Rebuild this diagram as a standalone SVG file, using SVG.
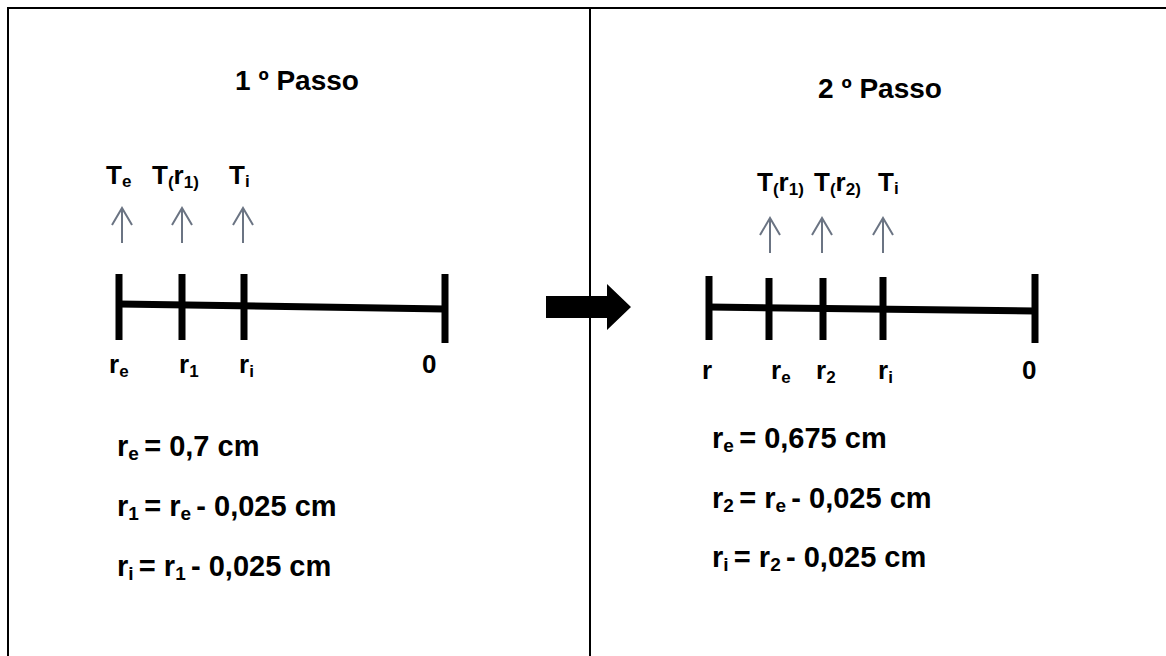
<svg xmlns="http://www.w3.org/2000/svg" width="1166" height="656" viewBox="0 0 1166 656">
  <style>
    text { font-family: "Liberation Sans", Arial, sans-serif; font-weight: bold; fill: #000; }
    .title { font-size: 28px; text-anchor: middle; }
    .lbl { font-size: 26px; }
    .sub { font-size: 17px; }
    .eq { font-size: 29px; }
    .esub { font-size: 19px; }
    .frame { stroke: #000; stroke-width: 2; fill: none; }
    .axis { stroke: #000; stroke-width: 7; fill: none; }
    .tick { stroke: #000; stroke-width: 7; fill: none; }
    .up { stroke: #6b7483; stroke-width: 2; fill: none; stroke-linejoin: miter; }
  </style>

  <rect width="1166" height="656" fill="#fff"/>

  <!-- outer frame and divider -->
  <g id="frame">
    <path class="frame" d="M8 656 V8 H1166"/>
    <path class="frame" d="M590 8 V656"/>
  </g>

  <!-- step 1 -->
  <g id="step1">
    <text class="title" x="297" y="90">1 º Passo</text>
    <g id="step1-axis">
      <path class="axis" d="M119 304 L445 309"/>
      <path class="tick" d="M119 274 V340 M182 274 V340 M244 274 V340 M445 274 V343"/>
    </g>
    <g id="step1-temps">
      <text class="lbl" x="106" y="184">T<tspan class="sub" dy="3">e</tspan></text>
      <text class="lbl" x="152" y="184">T<tspan class="sub" dy="4">(</tspan><tspan dy="-4">r</tspan><tspan class="sub" dy="4">1)</tspan></text>
      <text class="lbl" x="229" y="184">T<tspan class="sub" dy="3">i</tspan></text>
    </g>
    <g id="step1-radii">
      <text class="lbl" x="109" y="373">r<tspan class="sub" dy="4">e</tspan></text>
      <text class="lbl" x="179" y="373">r<tspan class="sub" dy="4">1</tspan></text>
      <text class="lbl" x="239" y="373">r<tspan class="sub" dy="4">i</tspan></text>
      <text class="lbl" x="422" y="373">0</text>
    </g>
    <g id="step1-eqs">
      <text class="eq" x="117" y="456">r<tspan class="esub" dy="4">e </tspan><tspan dy="-4">= 0,7 cm</tspan></text>
      <text class="eq" x="117" y="516">r<tspan class="esub" dy="4">1 </tspan><tspan dy="-4">= r</tspan><tspan class="esub" dy="4">e </tspan><tspan dy="-4">- 0,025 cm</tspan></text>
      <text class="eq" x="117" y="576">r<tspan class="esub" dy="4">i </tspan><tspan dy="-4">= r</tspan><tspan class="esub" dy="4">1 </tspan><tspan dy="-4">- 0,025 cm</tspan></text>
    </g>
  </g>

  <!-- step 2 -->
  <g id="step2">
    <text class="title" x="880" y="98">2 º Passo</text>
    <g id="step2-axis">
      <path class="axis" d="M709 307 L1035 311"/>
      <path class="tick" d="M709 276 V340 M769 278 V340 M823 278 V340 M883 277 V340 M1035 274 V343"/>
    </g>
    <g id="step2-temps">
      <text class="lbl" x="757" y="191">T<tspan class="sub" dy="4">(</tspan><tspan dy="-4">r</tspan><tspan class="sub" dy="4">1)</tspan></text>
      <text class="lbl" x="814" y="191">T<tspan class="sub" dy="4">(</tspan><tspan dy="-4">r</tspan><tspan class="sub" dy="4">2)</tspan></text>
      <text class="lbl" x="878" y="191">T<tspan class="sub" dy="3">i</tspan></text>
    </g>
    <g id="step2-radii">
      <text class="lbl" x="702" y="379">r</text>
      <text class="lbl" x="771" y="379">r<tspan class="sub" dy="4">e</tspan></text>
      <text class="lbl" x="816" y="379">r<tspan class="sub" dy="4">2</tspan></text>
      <text class="lbl" x="878" y="379">r<tspan class="sub" dy="4">i</tspan></text>
      <text class="lbl" x="1022" y="379">0</text>
    </g>
    <g id="step2-eqs">
      <text class="eq" x="712" y="448">r<tspan class="esub" dy="4">e </tspan><tspan dy="-4">= 0,675 cm</tspan></text>
      <text class="eq" x="712" y="508">r<tspan class="esub" dy="4">2 </tspan><tspan dy="-4">= r</tspan><tspan class="esub" dy="4">e </tspan><tspan dy="-4">- 0,025 cm</tspan></text>
      <text class="eq" x="712" y="567">r<tspan class="esub" dy="4">i </tspan><tspan dy="-4">= r</tspan><tspan class="esub" dy="4">2 </tspan><tspan dy="-4">- 0,025 cm</tspan></text>
    </g>
  </g>

  <!-- connectors: temperature pointers and the step transition arrow -->
  <g id="connectors">
    <path class="up" d="M122 243 V208 M112 225 L122 208 L132 225"/>
    <path class="up" d="M182 243 V208 M172 225 L182 208 L192 225"/>
    <path class="up" d="M243 243 V208 M233 225 L243 208 L253 225"/>
    <path class="up" d="M770 253 V218 M760 235 L770 218 L780 235"/>
    <path class="up" d="M822 253 V218 M812 235 L822 218 L832 235"/>
    <path class="up" d="M883 253 V218 M873 235 L883 218 L893 235"/>
    <path id="step-arrow" d="M546 296 H607 V284 L631 307 L607 330 V318 H546 Z" fill="#000"/>
  </g>
</svg>
